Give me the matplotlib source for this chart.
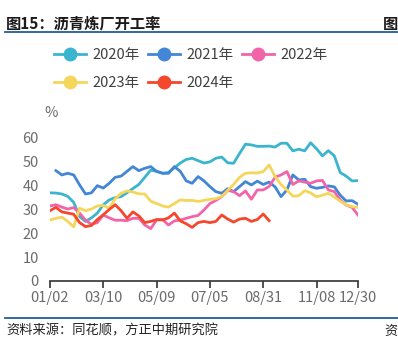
import numpy as np
import matplotlib
matplotlib.use("Agg")
import matplotlib.pyplot as plt
from matplotlib.lines import Line2D

plt.rcParams['font.family'] = ['Noto Sans CJK SC', 'DejaVu Sans']

# weekly points, 53 per year; x labels every 9 points
tick_pos = [0, 9, 18, 27, 36, 45, 52]
tick_labels = ["01/02", "03/10", "05/09", "07/05", "08/31", "11/08", "12/30"]
y_ticks = [0, 10, 20, 30, 40, 50, 60]

rate_2020 = [37, 36.9, 36.5, 35.5, 33, 27, 25, 26.5, 28.5, 32, 34, 35, 35.4, 37, 38.8, 40.5, 43.5,
             46.5, 46, 45.2, 45.5, 47.5, 49.5, 51, 51.5, 50.5, 49.5, 50, 51.5, 52, 49.6, 49.4, 53.5,
             57.4, 57.1, 56.5, 56.5, 56.6, 56.2, 57.8, 57.8, 54.6, 55.3, 54.6, 58, 55.5, 52.5, 54.7,
             52.5, 45.5, 44, 42, 42.1]
rate_2021 = [None, 46.3, 44.5, 45.2, 44.5, 40.3, 36.5, 37, 40, 39, 41, 43.5, 44, 46, 48, 46.3, 47.3,
             48, 46, 45.2, 45.2, 48, 46, 42, 41, 43.8, 42, 39.6, 37.5, 36.8, 38.7, 37.5, 39.6, 41.7,
             40.3, 41.9, 40.5, 41.5, 39.5, 35.4, 38.2, 44.5, 42.4, 42.7, 39.6, 38.9, 39.3, 39.9,
             39.5, 36, 33.6, 33.7, 32.2]
rate_2022 = [31.5, 32, 31, 30.2, 30.8, 28.5, 25.5, 23.8, 24.5, 27.7, 26.5, 25.5, 25.5, 25.3, 26.3,
             26.3, 23.5, 22, 25.6, 25.8, 23.5, 25.2, 25.6, 26.3, 27, 27.5, 29.8, 32.5, 33.8, 35.4,
             38, 37.5, 35.8, 37.8, 34.3, 38.2, 38.2, 39.7, 43.5, 44.5, 45.9, 40.5, 42, 41.5, 41, 42,
             42.2, 38.2, 37.5, 34, 31.9, 30.9, 27.7]
rate_2023 = [25.6, 26.3, 26.8, 25, 22.7, 30.5, 29.5, 30.2, 31.5, 31.7, 30.5, 34.5, 36.8, 37.8, 37.3,
             36.6, 36.5, 33.5, 32.5, 31.5, 31, 32.5, 34, 33.8, 33.8, 33.4, 33.8, 34.3, 34.5, 35.5,
             38, 40.5, 43.5, 45.2, 45.4, 45.3, 45.9, 48.7, 43.8, 40.5, 38.2, 35.6, 35.8, 37.9, 37,
             35.3, 36, 36.8, 35.2, 33.5, 32, 31.2, 30.9]
rate_2024 = [29.5, 30.9, 29, 28.5, 28, 24.5, 22.8, 23.3, 25.8, 27.8, 30, 32, 29.5, 26.3, 29, 27.3,
             24.5, 25, 25.8, 25.6, 26.5, 28.5, 25.2, 24, 22.5, 24.5, 25, 24.5, 25, 27.7, 26, 24.7,
             26, 26.3, 25, 25.8, 28.1, 25.3]

series = [("2020年", rate_2020, "#3bb5cf"),
          ("2021年", rate_2021, "#4286d5"),
          ("2022年", rate_2022, "#f264aa"),
          ("2023年", rate_2023, "#f5d65c"),
          ("2024年", rate_2024, "#f4472b")]

W, H = 398, 349
fig = plt.figure(figsize=(W / 100, H / 100), dpi=100)
ax = fig.add_axes([50 / W, 1 - 281 / H, 308 / W, 143 / H])

for name, vals, color in series:
    y = np.array([np.nan if v is None else v for v in vals], dtype=float)
    ax.plot(np.arange(len(y)), y, color=color, lw=2.0, solid_joinstyle="round")

ax.set_xlim(0, 52)
ax.set_ylim(0, 60)
ax.set_xticks(tick_pos)
ax.set_xticklabels(tick_labels)
ax.set_yticks(y_ticks)
for s in ["left", "right", "top"]:
    ax.spines[s].set_visible(False)
ax.spines["bottom"].set_color("#333333")
ax.spines["bottom"].set_linewidth(1.2)
ax.tick_params(axis="x", length=5, width=1.2, color="#333333", labelsize=10.5,
               labelcolor="#6b6b6b", pad=2)
ax.tick_params(axis="y", length=0, labelsize=10.5, labelcolor="#6b6b6b", pad=8)
ax.text(0.2, 70.5, "%", fontsize=10.5, color="#6b6b6b", ha="center", va="center")

# legend fills column by column, so order the entries to read row by row
order = [0, 3, 1, 4, 2]
handles = [Line2D([], [], color=series[i][2], lw=2.0, marker="o", markersize=9) for i in order]
labels = [series[i][0] for i in order]
fig.legend(handles, labels, loc="upper left", ncol=3, frameon=False,
           bbox_to_anchor=(54 / W, 1 - 48 / H), fontsize=10.5, labelcolor="#404040",
           handlelength=2.2, handletextpad=0.45, columnspacing=0.55, labelspacing=0.95,
           borderaxespad=0, borderpad=0)

# header and footer
fig.text(6 / W, 1 - 24 / H, "图15：沥青炼厂开工率", fontsize=11, fontweight="bold",
         color="#1a1a1a", va="center", ha="left")
fig.text(398 / W, 1 - 24 / H, "图", fontsize=11, fontweight="bold", color="#1a1a1a",
         va="center", ha="right")
fig.add_artist(Line2D([5 / W, 1], [1 - 32 / H, 1 - 32 / H], color="#1f5f98", lw=1.3))
fig.add_artist(Line2D([5 / W, 1], [1 - 318 / H, 1 - 318 / H], color="#1f5f98", lw=1.3))
fig.text(6 / W, 1 - 331 / H, "资料来源：同花顺，方正中期研究院", fontsize=9.5, style="italic",
         color="#222222", va="center", ha="left")
fig.text(398 / W, 1 - 331 / H, "资", fontsize=9.5, color="#222222", va="center", ha="right")

fig.savefig("out.png", dpi=100)
